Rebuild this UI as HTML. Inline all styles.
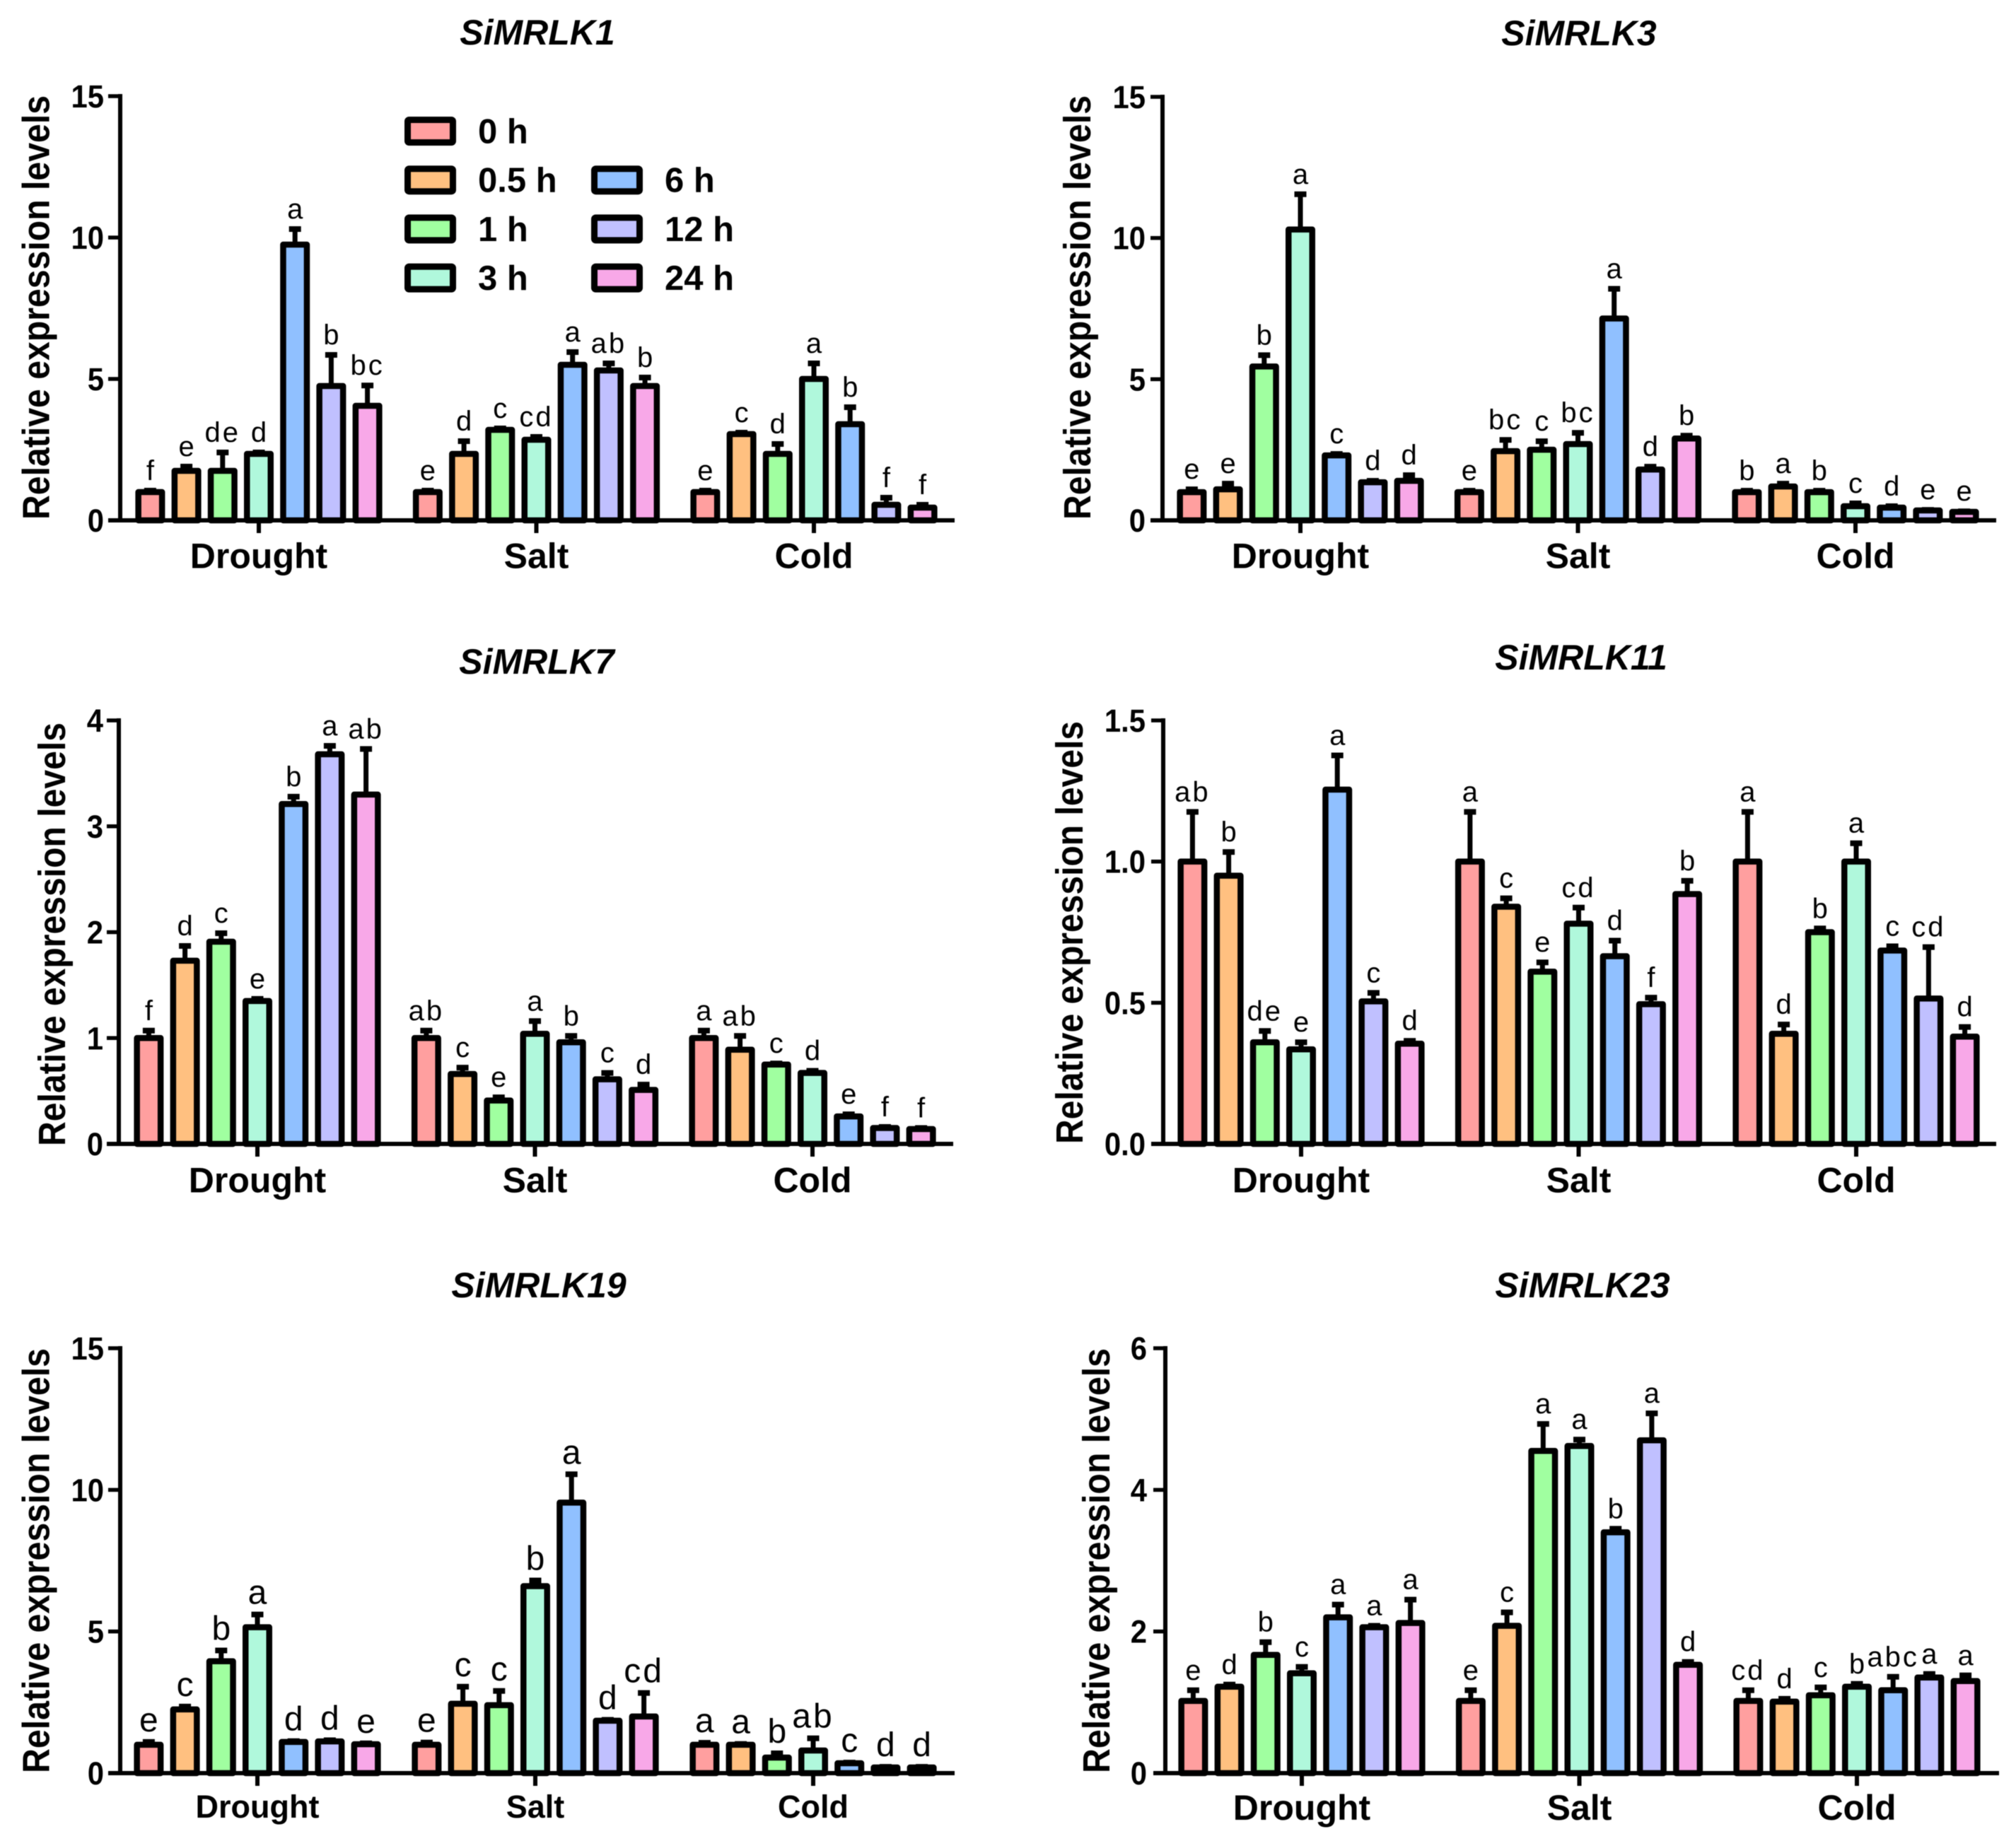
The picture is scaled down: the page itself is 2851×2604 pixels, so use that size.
<!DOCTYPE html>
<html lang="en">
<head>
<meta charset="utf-8">
<title>SiMRLK relative expression levels</title>
<style>
html,body{margin:0;padding:0;background:#fff;}
#figure{display:block;width:2851px;height:2604px;background:#fff;font-family:"Liberation Sans",Arial,sans-serif;filter:blur(0.6px);}
text{font-family:"Liberation Sans",Arial,sans-serif;fill:#000;}
</style>
</head>
<body>
<svg id="figure" xmlns="http://www.w3.org/2000/svg" width="2851" height="2604" viewBox="0 0 2851 2604"></svg>
<script>
const groupNames = ['Drought', 'Salt', 'Cold'];
const timeNames = ['0 h', '0.5 h', '1 h', '3 h', '6 h', '12 h', '24 h'];
const timeColors = ['#FF9F9F', '#FFC080', '#A0FFA0', '#B0F8DC', '#90C0FF', '#C0C0FF', '#F8A8E8'];

const k1Title = 'SiMRLK1';
const k1Ticks = ['0', '5', '10', '15'];
const k1Means = [1, 1.75, 1.75, 2.35, 9.75, 4.75, 4.05, 1, 2.35, 3.2, 2.85, 5.5, 5.3, 4.75, 1, 3.05, 2.35, 5, 3.4, 0.55, 0.45];
const k1Upper = [1.05, 1.9, 2.4, 2.4, 10.3, 5.85, 4.77, 1.05, 2.8, 3.25, 2.95, 5.95, 5.55, 5.05, 1.05, 3.1, 2.7, 5.55, 4.0, 0.8, 0.55];
const k1Letters = ['f', 'e', 'de', 'd', 'a', 'b', 'bc', 'e', 'd', 'c', 'cd', 'a', 'ab', 'b', 'e', 'c', 'd', 'a', 'b', 'f', 'f'];

const k3Title = 'SiMRLK3';
const k3Ticks = ['0', '5', '10', '15'];
const k3Means = [1, 1.1, 5.45, 10.3, 2.3, 1.35, 1.4, 1, 2.45, 2.5, 2.7, 7.15, 1.8, 2.9, 1, 1.2, 1, 0.5, 0.45, 0.35, 0.3];
const k3Upper = [1.1, 1.3, 5.85, 11.55, 2.35, 1.4, 1.6, 1.05, 2.85, 2.8, 3.1, 8.2, 1.9, 3.0, 1.05, 1.3, 1.05, 0.6, 0.5, 0.37, 0.32];
const k3Letters = ['e', 'e', 'b', 'a', 'c', 'd', 'd', 'e', 'bc', 'c', 'bc', 'a', 'd', 'b', 'b', 'a', 'b', 'c', 'd', 'e', 'e'];

const k7Title = 'SiMRLK7';
const k7Ticks = ['0', '1', '2', '3', '4'];
const k7Means = [1, 1.73, 1.91, 1.35, 3.21, 3.68, 3.3, 1, 0.66, 0.41, 1.04, 0.96, 0.61, 0.51, 1, 0.89, 0.75, 0.67, 0.26, 0.15, 0.14];
const k7Upper = [1.07, 1.87, 1.99, 1.37, 3.28, 3.76, 3.73, 1.07, 0.72, 0.44, 1.16, 1.02, 0.67, 0.56, 1.07, 1.02, 0.76, 0.69, 0.28, 0.16, 0.15];
const k7Letters = ['f', 'd', 'c', 'e', 'b', 'a', 'ab', 'ab', 'c', 'e', 'a', 'b', 'c', 'd', 'a', 'ab', 'c', 'd', 'e', 'f', 'f'];

const k11Title = 'SiMRLK11';
const k11Ticks = ['0.0', '0.5', '1.0', '1.5'];
const k11Means = [1.0, 0.95, 0.36, 0.335, 1.255, 0.505, 0.355, 1.0, 0.84, 0.61, 0.78, 0.665, 0.495, 0.885, 1.0, 0.39, 0.75, 1.0, 0.685, 0.515, 0.38];
const k11Upper = [1.176, 1.034, 0.4, 0.36, 1.376, 0.535, 0.365, 1.176, 0.87, 0.643, 0.837, 0.72, 0.518, 0.932, 1.176, 0.423, 0.763, 1.065, 0.7, 0.697, 0.414];
const k11Letters = ['ab', 'b', 'de', 'e', 'a', 'c', 'd', 'a', 'c', 'e', 'cd', 'd', 'f', 'b', 'a', 'd', 'b', 'a', 'c', 'cd', 'd'];

const k19Title = 'SiMRLK19';
const k19Ticks = ['0', '5', '10', '15'];
const k19Means = [1, 2.25, 3.95, 5.15, 1.1, 1.12, 1.02, 1, 2.45, 2.4, 6.6, 9.55, 1.85, 2.0, 1, 1, 0.55, 0.8, 0.35, 0.2, 0.2];
const k19Upper = [1.1, 2.35, 4.33, 5.6, 1.13, 1.16, 1.05, 1.08, 3.05, 2.9, 6.8, 10.55, 1.88, 2.83, 1.07, 1.03, 0.7, 1.23, 0.37, 0.22, 0.22];
const k19Letters = ['e', 'c', 'b', 'a', 'd', 'd', 'e', 'e', 'c', 'c', 'b', 'a', 'd', 'cd', 'a', 'a', 'b', 'ab', 'c', 'd', 'd'];

const k23Title = 'SiMRLK23';
const k23Ticks = ['0', '2', '4', '6'];
const k23Means = [1.02, 1.22, 1.67, 1.41, 2.2, 2.06, 2.12, 1.02, 2.08, 4.55, 4.62, 3.4, 4.7, 1.53, 1.02, 1.01, 1.1, 1.22, 1.17, 1.35, 1.3];
const k23Upper = [1.17, 1.25, 1.85, 1.5, 2.38, 2.08, 2.45, 1.17, 2.27, 4.93, 4.71, 3.45, 5.08, 1.57, 1.17, 1.05, 1.21, 1.26, 1.36, 1.4, 1.38];
const k23Letters = ['e', 'd', 'b', 'c', 'a', 'a', 'a', 'e', 'c', 'a', 'a', 'b', 'a', 'd', 'cd', 'd', 'c', 'b', 'abc', 'a', 'a'];

const panelSeries = [
  {title: k1Title, ticks: k1Ticks, means: k1Means, upper: k1Upper, letters: k1Letters},
  {title: k3Title, ticks: k3Ticks, means: k3Means, upper: k3Upper, letters: k3Letters},
  {title: k7Title, ticks: k7Ticks, means: k7Means, upper: k7Upper, letters: k7Letters},
  {title: k11Title, ticks: k11Ticks, means: k11Means, upper: k11Upper, letters: k11Letters},
  {title: k19Title, ticks: k19Ticks, means: k19Means, upper: k19Upper, letters: k19Letters},
  {title: k23Title, ticks: k23Ticks, means: k23Means, upper: k23Upper, letters: k23Letters}
];

/* layout only: plot frames and text anchors */
const panelLayouts = [
  {ax: 170, top: 136, bottom: 736, end: 1350, g0: 366, gs: 392.5, titleX: 760, titleY: 63, yTitleX: 69.5, yTitleTop: 135, yTitleBottom: 735, tickX: 147, groupY: 803.5, groupSize: 50, letterSize: 40},
  {ax: 1644, top: 137, bottom: 736, end: 2823, g0: 1839, gs: 392.5, titleX: 2233, titleY: 64, yTitleX: 1542, yTitleTop: 135, yTitleBottom: 735, tickX: 1620, groupY: 803.5, groupSize: 50, letterSize: 40},
  {ax: 168, top: 1019, bottom: 1618, end: 1348, g0: 364, gs: 392.5, titleX: 759, titleY: 953, yTitleX: 92, yTitleTop: 1022, yTitleBottom: 1621, tickX: 146, groupY: 1686.5, groupSize: 50, letterSize: 40},
  {ax: 1645, top: 1019, bottom: 1618, end: 2823, g0: 1840, gs: 392.5, titleX: 2236, titleY: 947, yTitleX: 1531, yTitleTop: 1020, yTitleBottom: 1618, tickX: 1620, groupY: 1686.5, groupSize: 50, letterSize: 40},
  {ax: 170, top: 1907, bottom: 2508, end: 1350, g0: 364, gs: 393, titleX: 762, titleY: 1835, yTitleX: 69.5, yTitleTop: 1907, yTitleBottom: 2508, tickX: 147, groupY: 2571, groupSize: 45, letterSize: 48},
  {ax: 1648, top: 1907, bottom: 2508, end: 2827, g0: 1841, gs: 392.5, titleX: 2238, titleY: 1835, yTitleX: 1569, yTitleTop: 1907, yTitleBottom: 2508, tickX: 1622, groupY: 2574, groupSize: 50, letterSize: 40}
];

const NS = 'http://www.w3.org/2000/svg';
const root = document.getElementById('figure');
const BAR_STEP = 51.2;
const BAR_W = 33.5;

function make(tag, parent, props) {
  const el = document.createElementNS(NS, tag);
  for (const key in props) el.setAttribute(key, props[key]);
  parent.appendChild(el);
  return el;
}

function drawPanel(data, lay) {
  const panel = make('g', root, {});
  
  

  const yMax = parseFloat(data.ticks[data.ticks.length - 1]);
  const yScale = v => lay.bottom - (v / yMax) * (lay.bottom - lay.top);
  const xScale = (g, t) => lay.g0 + g * lay.gs + (t - 3) * BAR_STEP;

  const title = make('text', panel, {x: lay.titleX, y: lay.titleY, 'text-anchor': 'middle', 'font-size': 50, 'font-weight': 'bold', 'font-style': 'italic'});
  title.textContent = data.title;
  
  

  const yTitleLen = lay.yTitleBottom - lay.yTitleTop;
  const yTitle = make('text', panel, {
    transform: 'translate(' + lay.yTitleX + ',' + lay.yTitleBottom + ') rotate(-90)',
    x: 0, y: 0, 'font-size': 54, 'font-weight': 'bold', textLength: yTitleLen, lengthAdjust: 'spacingAndGlyphs'
  });
  yTitle.textContent = 'Relative expression levels';
  
  

  data.means.forEach((mean, i) => {
    const g = Math.floor(i / 7);
    const t = i % 7;
    const cx = xScale(g, t);
    const yTop = yScale(mean);
    const yUp = yScale(data.upper[i]);

    const errLine = make('line', panel, {x1: cx, x2: cx, y1: yTop, y2: yUp, stroke: '#000', 'stroke-width': 7});
    
    

    const errCap = make('line', panel, {x1: cx - 8.5, x2: cx + 8.5, y1: yUp, y2: yUp, stroke: '#000', 'stroke-width': 8});
    
    

    const bar = make('rect', panel, {x: cx - BAR_W / 2, y: yTop, width: BAR_W, height: lay.bottom - yTop, fill: timeColors[t], stroke: '#000', 'stroke-width': 8.5, 'stroke-linejoin': 'round'});
    
    

    const labelTop = Math.min(yUp - 4, yTop - 4);
    const letter = make('text', panel, {x: cx, y: labelTop - 11, 'text-anchor': 'middle', 'font-size': lay.letterSize, 'letter-spacing': data.letters[i].length > 1 ? 3 : 0});
    letter.textContent = data.letters[i];
    
    
  });

  const yAxis = make('line', panel, {x1: lay.ax, x2: lay.ax, y1: lay.top - 3, y2: lay.bottom + 3, stroke: '#000', 'stroke-width': 6});
  
  

  const xAxis = make('line', panel, {x1: lay.ax - 17, x2: lay.end, y1: lay.bottom, y2: lay.bottom, stroke: '#000', 'stroke-width': 6});
  
  

  data.ticks.forEach(label => {
    const ty = yScale(parseFloat(label));
    const tick = make('line', panel, {x1: lay.ax - 17, x2: lay.ax, y1: ty, y2: ty, stroke: '#000', 'stroke-width': 5.5});
    
    

    const tl = make('text', panel, {transform: 'translate(' + lay.tickX + ',' + (ty + 16) + ') scale(0.93,1)', x: 0, y: 0, 'text-anchor': 'end', 'font-size': 45, 'font-weight': 'bold'});
    tl.textContent = label;
    
    
  });

  groupNames.forEach((name, g) => {
    const gx = xScale(g, 3);
    const tick = make('line', panel, {x1: gx, x2: gx, y1: lay.bottom, y2: lay.bottom + 18, stroke: '#000', 'stroke-width': 6});
    
    

    const gl = make('text', panel, {x: gx, y: lay.groupY, 'text-anchor': 'middle', 'font-size': lay.groupSize, 'font-weight': 'bold'});
    gl.textContent = name;
    
    
  });
}

panelSeries.forEach((data, i) => drawPanel(data, panelLayouts[i]));

const legend = make('g', root, {});


timeNames.forEach((name, i) => {
  const col = i < 4 ? 0 : 1;
  const row = i < 4 ? i : i - 3;
  const entry = make('g', legend, {});
  
  

  const sx = col === 0 ? 576.5 : 840.5;
  const cy = 185.5 + row * 69.2;
  const swatch = make('rect', entry, {x: sx, y: cy - 16, width: 64, height: 32, rx: 2, fill: timeColors[i], stroke: '#000', 'stroke-width': 9, 'stroke-linejoin': 'round'});
  
  

  const label = make('text', entry, {x: col === 0 ? 676 : 940, y: cy + 17, 'font-size': 49, 'font-weight': 'bold'});
  label.textContent = name;
  
  
});
</script>
</body>
</html>
